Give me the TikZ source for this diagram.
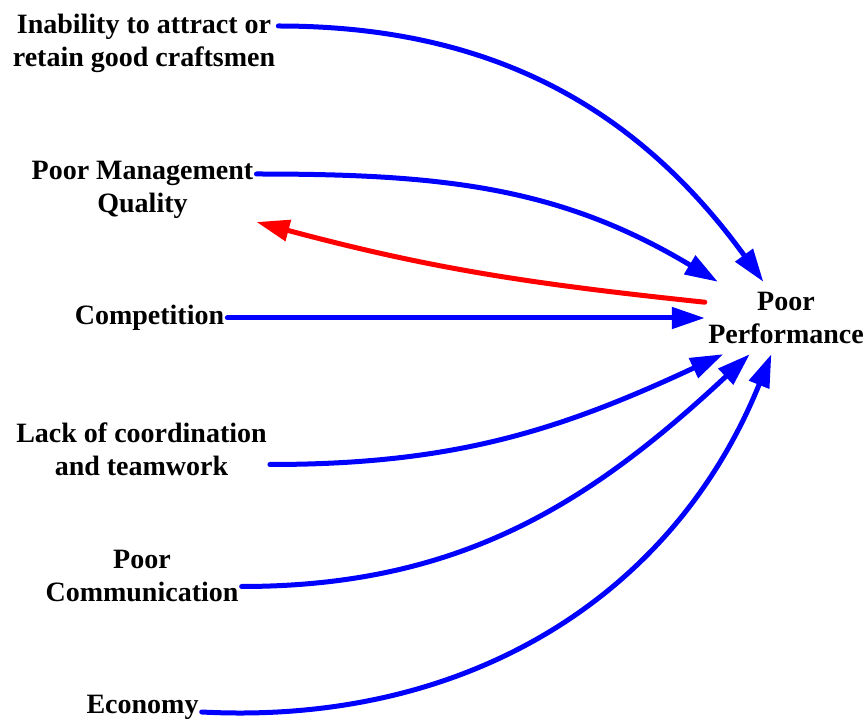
\documentclass[tikz,border=0pt]{standalone}
\usepackage{fontspec}
\setmainfont{Liberation Serif}
\usepackage{xcolor}
\usetikzlibrary{arrows.meta}
\definecolor{linkblue}{HTML}{0000FF}
\definecolor{linkred}{HTML}{FF0000}

\begin{document}
\begin{tikzpicture}[x=1pt, y=1pt,
    factor/.style={align=center, inner sep=3pt, font=\fontsize{28}{33}\selectfont\bfseries},
    link/.style={linkblue, line width=5pt, line cap=round, -{Triangle[length=33pt, width=21pt]}}]
    \useasboundingbox (0,0) rectangle (868,718);

    % Causes on the left
    \node[factor] (attract) at (144,675) {Inability to attract or\\retain good craftsmen};
    \node[factor] (mgmt) at (142.5,528) {Poor Management\\Quality};
    \node[factor] (comp) at (149.5,400) {Competition};
    \node[factor] (teamwork) at (141.5,268.5) {Lack of coordination\\and teamwork};
    \node[factor] (comm) at (142,141.5) {Poor\\Communication};
    \node[factor] (economy) at (142.5,11) {Economy};

    % Effect on the right
    \node[factor, minimum width=162, minimum height=72, inner sep=0pt] (perf) at (786,400) {Poor\\Performance};

    % Links into Poor Performance
    \draw[link] ([yshift=17pt]attract.east) to[out=0, in=126] (perf.122);
    \draw[link] ([yshift=16pt]mgmt.east) to[out=0, in=149] (perf.152);
    \draw[link] (comp.east) -- (perf.west);
    \draw[link] ([yshift=-15pt]teamwork.east) to[out=0, in=205] (perf.210);
    \draw[link] ([yshift=-10pt]comm.east) to[out=0, in=223] (perf.225);
    \draw[link] ([yshift=-5pt]economy.east) to[out=-3, in=248] (perf.248);

    % Feedback back to management
    \draw[link, linkred] (perf.169) to[out=174, in=-15] ([yshift=-32pt]mgmt.east);
\end{tikzpicture}
\end{document}
